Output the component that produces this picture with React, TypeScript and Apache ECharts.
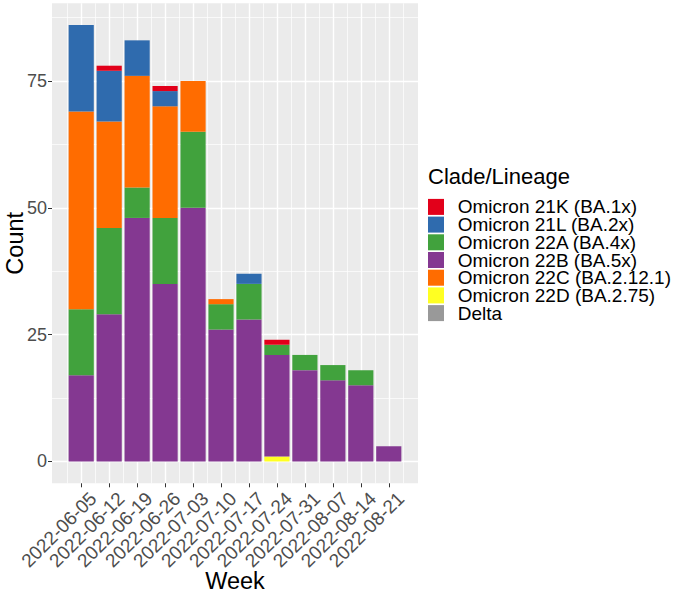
import React, { useEffect, useRef } from "react";
import * as echarts from "echarts";

const weeks = [
  "2022-06-05", "2022-06-12", "2022-06-19", "2022-06-26", "2022-07-03", "2022-07-10",
  "2022-07-17", "2022-07-24", "2022-07-31", "2022-08-07", "2022-08-14", "2022-08-21",
];
const omicron21K = [0, 1, 0, 1, 0, 0, 0, 1, 0, 0, 0, 0];
const omicron21L = [17, 10, 7, 3, 0, 0, 2, 0, 0, 0, 0, 0];
const omicron22A = [13, 17, 6, 13, 15, 5, 7, 2, 3, 3, 3, 0];
const omicron22B = [17, 29, 48, 35, 50, 26, 28, 20, 18, 16, 15, 3];
const omicron22C = [39, 21, 22, 22, 10, 1, 0, 0, 0, 0, 0, 0];
const omicron22D = [0, 0, 0, 0, 0, 0, 0, 1, 0, 0, 0, 0];
const delta = [0, 0, 0, 0, 0, 0, 0, 0, 0, 0, 0, 0];

const cladeNames = [
  "Omicron 21K (BA.1x)",
  "Omicron 21L (BA.2x)",
  "Omicron 22A (BA.4x)",
  "Omicron 22B (BA.5x)",
  "Omicron 22C (BA.2.12.1)",
  "Omicron 22D (BA.2.75)",
  "Delta",
];
const cladeValues = [omicron21K, omicron21L, omicron22A, omicron22B, omicron22C, omicron22D, delta];
const cladeColors = ["#E2001A", "#2F6BAE", "#41A23D", "#843891", "#FF6C00", "#FFFF22", "#999999"];
// stacking order from bottom to top (indices into cladeNames)
const stackOrder = [5, 3, 2, 4, 1, 0, 6];

const yTicks = [0, 25, 50, 75];
const yMinorTicks = [12.5, 37.5, 62.5, 87.5];
const yMin = -4.3;
const yMax = 90.3;
const xPad = 1.045; // panel expansion beyond first/last week, in weeks
const legendTitle = "Clade/Lineage";
const xTitle = "Week";
const yTitle = "Count";

const FONT = "'Liberation Sans', Arial, Helvetica, sans-serif";
const W = 680;
const H = 596;
const panelLeft = 52;
const panelRight = 418;
const panelTop = 3.3;
const panelBottom = 483.3;

export default function App() {
  const ref = useRef<HTMLDivElement>(null);

  useEffect(() => {
    document.body.style.margin = "0";
    if (!ref.current) return;
    const chart = echarts.init(ref.current, null, { renderer: "svg" });

    const n = weeks.length;
    const idxMin = -xPad;
    const idxMax = n - 1 + xPad;
    const unit = (panelRight - panelLeft) / (idxMax - idxMin);
    const barAreaLeft = panelLeft + (xPad - 0.5) * unit;
    const barAreaRight = panelRight - (xPad - 0.5) * unit;
    const majorX = weeks.map((_, i) => i);
    const minorX = weeks.map((_, i) => i - 0.5).concat([n - 0.5]);

    const series = stackOrder.map((ci) => ({
      name: cladeNames[ci],
      type: "bar",
      stack: "total",
      xAxisIndex: 2,
      yAxisIndex: 2,
      barWidth: 0.9 * unit,
      itemStyle: { color: cladeColors[ci], borderWidth: 0 },
      emphasis: { disabled: true },
      data: cladeValues[ci],
    }));

    const gridBase = { top: panelTop, bottom: H - panelBottom, containLabel: false, outerBoundsMode: "none" };

    chart.setOption({
      animation: false,
      backgroundColor: "#ffffff",
      textStyle: { fontFamily: FONT },
      grid: [
        {
          ...gridBase,
          left: panelLeft,
          right: W - panelRight,
          show: true,
          backgroundColor: "#EBEBEB",
          borderWidth: 0,
        },
        {
          ...gridBase,
          left: barAreaLeft,
          right: W - barAreaRight,
          show: false,
        },
      ],
      graphic: [
        {
          type: "text",
          left: 428,
          top: 165,
          style: { text: legendTitle, fontSize: 22, fill: "#000000", fontFamily: FONT },
        },
      ],
      legend: {
        orient: "vertical",
        left: 428,
        top: 197.4,
        padding: 0,
        itemWidth: 16,
        itemHeight: 16,
        itemGap: -1.3,
        icon: "rect",
        selectedMode: false,
        data: cladeNames,
        textStyle: {
          fontSize: 19,
          color: "#000000",
          fontFamily: FONT,
          padding: [0, 0, 0, 8.7],
        },
        itemStyle: { borderWidth: 0 },
      },
      xAxis: [
        {
          // week index axis: labels, ticks, major grid
          gridIndex: 0,
          type: "value",
          min: idxMin,
          max: idxMax,
          position: "bottom",
          name: xTitle,
          nameLocation: "middle",
          nameGap: 86,
          nameMoveOverlap: false,
          nameTextStyle: { fontSize: 23.5, color: "#000000", fontFamily: FONT },
          axisLine: { show: false, onZero: false },
          axisTick: {
            show: true,
            customValues: majorX,
            length: 4,
            lineStyle: { color: "#333333", width: 1 },
          },
          axisLabel: {
            show: true,
            customValues: majorX,
            rotate: 45,
            margin: 0,
            align: "right",
            verticalAlign: "top",
            padding: [7.5, 0, 0, 0],
            fontSize: 19,
            color: "#4D4D4D",
            fontFamily: FONT,
            hideOverlap: false,
            showMinLabel: true,
            showMaxLabel: true,
            formatter: (v: number) => weeks[Math.round(v)] ?? "",
          },
          splitLine: { show: true, lineStyle: { color: "#FFFFFF", width: 1.4 } },
        },
        {
          // minor grid
          gridIndex: 0,
          type: "value",
          min: idxMin,
          max: idxMax,
          position: "top",
          axisLine: { show: false, onZero: false },
          axisTick: { show: false, customValues: minorX },
          axisLabel: { show: false, customValues: minorX },
          splitLine: { show: true, lineStyle: { color: "#FFFFFF", width: 0.7 } },
        },
        {
          // category axis carrying the bars (hidden)
          gridIndex: 1,
          type: "category",
          data: weeks,
          boundaryGap: true,
          position: "bottom",
          axisLine: { show: false, onZero: false },
          axisTick: { show: false },
          axisLabel: { show: false },
          splitLine: { show: false },
        },
      ],
      yAxis: [
        {
          gridIndex: 0,
          type: "value",
          min: yMin,
          max: yMax,
          position: "left",
          name: yTitle,
          nameLocation: "middle",
          nameGap: 25,
          nameMoveOverlap: false,
          nameTextStyle: { fontSize: 23.5, color: "#000000", fontFamily: FONT },
          axisLine: { show: false, onZero: false },
          axisTick: {
            show: true,
            customValues: yTicks,
            length: 4,
            lineStyle: { color: "#333333", width: 1 },
          },
          axisLabel: {
            show: true,
            customValues: yTicks,
            margin: 5,
            fontSize: 18,
            color: "#4D4D4D",
            fontFamily: FONT,
          },
          splitLine: { show: true, lineStyle: { color: "#FFFFFF", width: 1.4 } },
        },
        {
          gridIndex: 0,
          type: "value",
          min: yMin,
          max: yMax,
          position: "right",
          axisLine: { show: false, onZero: false },
          axisTick: { show: false, customValues: yMinorTicks },
          axisLabel: { show: false, customValues: yMinorTicks },
          splitLine: { show: true, lineStyle: { color: "#FFFFFF", width: 0.7 } },
        },
        {
          gridIndex: 1,
          type: "value",
          min: yMin,
          max: yMax,
          position: "left",
          axisLine: { show: false, onZero: false },
          axisTick: { show: false },
          axisLabel: { show: false },
          splitLine: { show: false },
        },
      ],
      series,
    });

    return () => chart.dispose();
  }, []);

  return <div ref={ref} style={{ width: W, height: H }} />;
}
